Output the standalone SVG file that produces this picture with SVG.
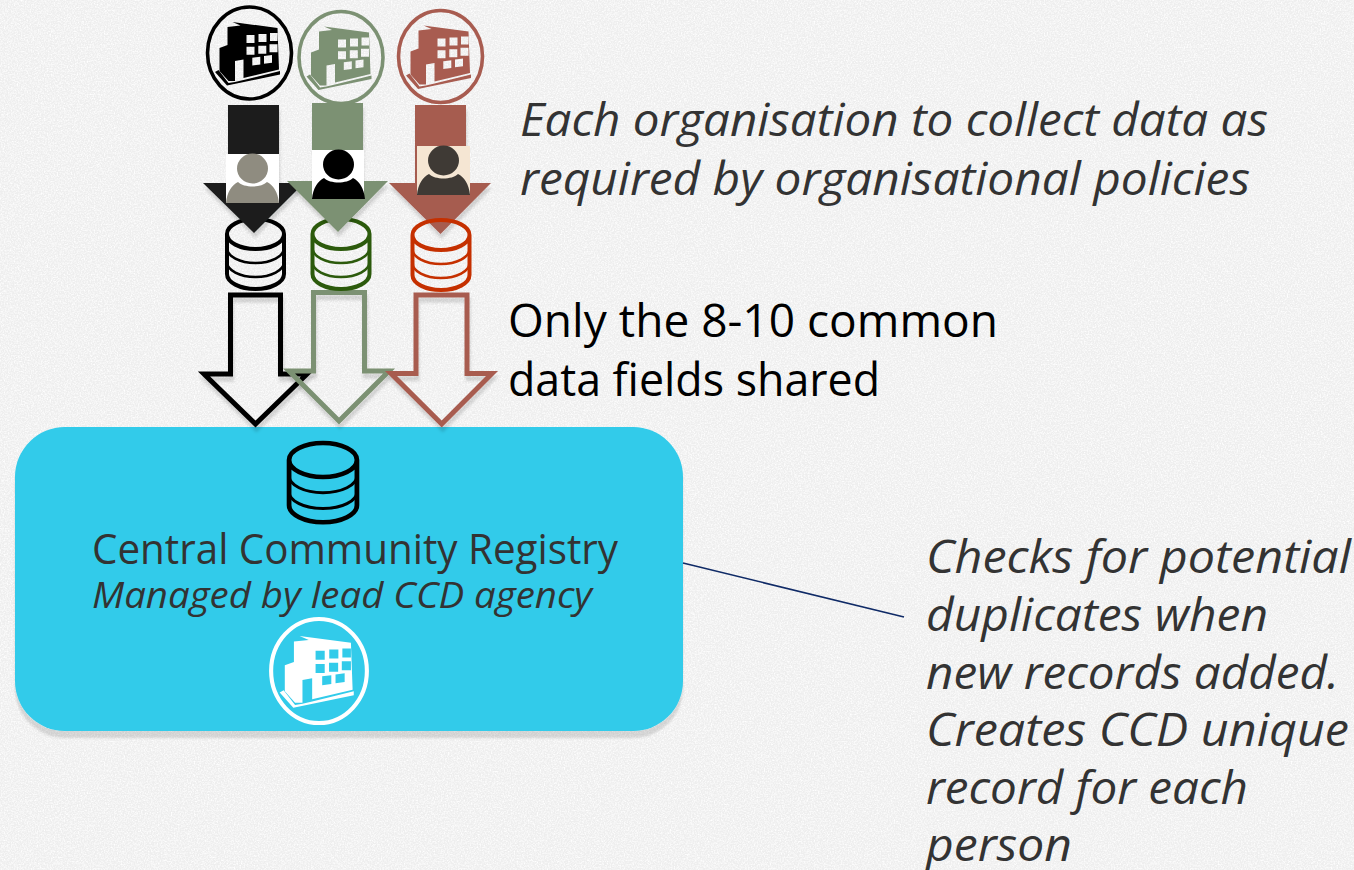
<svg xmlns="http://www.w3.org/2000/svg" width="1354" height="870" viewBox="0 0 1354 870">
<style>
.t{font-family:"Open Sans","Noto Sans","Liberation Sans",sans-serif;font-size:46px;fill:#333}
.i{font-style:italic;font-weight:400}
.out{fill:none;stroke-width:5;stroke-miterlimit:10;filter:url(#sh)}
.solid{filter:url(#sh)}
.ring{fill:none;stroke:currentColor;stroke-width:4}
.thin{fill:none;stroke:currentColor;stroke-width:2.6}
</style>
<defs>
<filter id="paper" x="0" y="0" width="100%" height="100%">
<feTurbulence type="fractalNoise" baseFrequency="0.7" numOctaves="2" seed="4"/>
<feColorMatrix values="0 0 0 0 1  0 0 0 0 1  0 0 0 0 1  1.5 1.5 0 0 -1.25"/>
<feComposite in2="SourceGraphic" operator="over"/>
</filter>
<filter id="sh" x="-20%" y="-20%" width="140%" height="140%">
<feDropShadow dx="1" dy="5" stdDeviation="1.5" flood-color="#000" flood-opacity="0.14"/>
</filter>
<filter id="boxsh" x="-5%" y="-5%" width="110%" height="115%">
<feDropShadow dx="0" dy="7" stdDeviation="1" flood-color="#000" flood-opacity="0.12"/>
</filter>
<symbol id="building" overflow="visible">
<ellipse cx="0" cy="0" rx="42" ry="46" fill="none" stroke="currentColor" stroke-width="3.6"/>
<path fill="currentColor" fill-rule="evenodd" d="M-17,-31 L28,-25 L29.5,16.5 L-6,25 L-6,6.5 L-14.5,8 L-14.5,28 L-21,28 L-30,18 L-30,-5 L-22,-8 L-22,-26 L-9,-27.5 Z M-3,-18 L5,-18 L5,-10 L-3,-10 Z M9,-19 L17,-19 L17,-11 L9,-11 Z M20.5,-20 L28,-20 L28,-12 L20.5,-12 Z M-3,-6.3 L5,-6.3 L5,1.7 L-3,1.7 Z M8.8,-7.3 L16.8,-7.3 L16.8,0.7 L8.8,0.7 Z M20,-8.7 L28,-8.7 L28,-0.7 L20,-0.7 Z M2.8,4.7 L10.8,3.7 L10.8,11.5 L2.8,12.5 Z M14.5,3 L22.5,2 L22.5,9.8 L14.5,10.8 Z"/>
<path fill="currentColor" d="M-34.5,19 L-31,17 L-21,30 L-14.5,29 L-6,27 L30.5,18 L30.5,21.5 L-22.5,32.5 Z"/>
</symbol>
<symbol id="person" overflow="visible">
<ellipse cx="26.5" cy="14.5" rx="15.5" ry="15"/>
<path d="M0,49 C1,38 6,31 12,28 C18,34 35,34 41,28 C47,31 52,38 53,49 Z"/>
</symbol>
<symbol id="db" overflow="visible">
<path class="ring" d="M-28.5,0 A28.5,15 0 1 1 28.5,0 A28.5,15 0 1 1 -28.5,0 Z M-28.5,0 V40 A28.5,15 0 0 0 28.5,40 V0"/>
<path class="thin" d="M-28.5,14 A28.5,15 0 0 0 28.5,14 M-28.5,28 A28.5,15 0 0 0 28.5,28"/>
</symbol>
</defs>
<rect id="background" width="1354" height="870" fill="#eeeeee" filter="url(#paper)"/>

<g id="central-registry">
<rect x="15" y="427" width="668" height="304" rx="50" fill="#31cbea" filter="url(#boxsh)"/>
<g color="#000"><use href="#db" transform="translate(323,460) scale(1.19,1.13)"/></g>
<text class="t" x="92" y="564" style="font-size:42px" textLength="526" lengthAdjust="spacingAndGlyphs">Central Community Registry</text>
<text class="t i" x="92" y="608" style="font-size:36px" textLength="500" lengthAdjust="spacingAndGlyphs">Managed by lead CCD agency</text>
<use href="#building" color="#fff" transform="translate(319,671) scale(1.14,1.13)"/>
</g>

<g id="connectors">
<line x1="683" y1="563" x2="904" y2="617" stroke="#0f2a66" stroke-width="1.6"/>
<polygon class="out" stroke="#000" points="230.5,295 280.5,295 280.5,374 307,374 255.5,424 204,374 230.5,374"/>
<polygon class="out" stroke="#7c9173" points="313.5,292.5 364.5,292.5 364.5,371 389,371 339,421 289,371 313.5,371"/>
<polygon class="out" stroke="#a85c50" points="416,295 467,295 467,373.5 492,373.5 441.7,424 391,373.5 416,373.5"/>
</g>

<g id="org-black" color="#000">
<use href="#building" transform="translate(249.5,53)"/>
<g color="#000"><use href="#db" transform="translate(255.5,234)"/></g>
<polygon class="solid" fill="#1d1f1e" points="228,105 279,105 279,183 304,183 254,233 203,183 228,183"/>
<rect x="226" y="154" width="53" height="49" fill="#fff"/>
<use href="#person" fill="#8f8c80" transform="translate(226,154)"/>
</g>
<g id="org-green" color="#7c9173">
<use href="#building" transform="translate(341,57.5)"/>
<g color="#2c5a0c"><use href="#db" transform="translate(341,234)"/></g>
<polygon class="solid" fill="#7c9173" points="312,103 363,103 363,181 388,181 338,232 287,181 312,181"/>
<rect x="312" y="150" width="52" height="49" fill="#fff"/>
<use href="#person" fill="#000" transform="translate(312,150)"/>
</g>
<g id="org-red" color="#a85c50">
<use href="#building" transform="translate(440.5,56.5)"/>
<polygon class="solid" fill="#a65b4f" points="415,105 466,105 466,183 491,183 440.5,234 389,183 415,183"/>
<g color="#c53000"><use href="#db" transform="translate(441,235)"/></g>
<rect x="417" y="146" width="53" height="48" fill="#f5e6d3"/>
<use href="#person" fill="#3f3a35" transform="translate(417,146)"/>
</g>

<g id="labels">
<text class="t i" x="520" y="136" textLength="748" lengthAdjust="spacingAndGlyphs">Each organisation to collect data as</text>
<text class="t i" x="520" y="195" textLength="730" lengthAdjust="spacingAndGlyphs">required by organisational policies</text>
<text class="t" x="508" y="337" style="fill:#000" textLength="490" lengthAdjust="spacingAndGlyphs">Only the 8-10 common</text>
<text class="t" x="508" y="396" style="fill:#000" textLength="372" lengthAdjust="spacingAndGlyphs">data fields shared</text>
<text class="t i" x="926" y="573" textLength="425" lengthAdjust="spacingAndGlyphs">Checks for potential</text>
<text class="t i" x="926" y="631" textLength="342" lengthAdjust="spacingAndGlyphs">duplicates when</text>
<text class="t i" x="926" y="689" textLength="413" lengthAdjust="spacingAndGlyphs">new records added.</text>
<text class="t i" x="926" y="746" textLength="423" lengthAdjust="spacingAndGlyphs">Creates CCD unique</text>
<text class="t i" x="926" y="804" textLength="322" lengthAdjust="spacingAndGlyphs">record for each</text>
<text class="t i" x="926" y="861" textLength="146" lengthAdjust="spacingAndGlyphs">person</text>
</g>
</svg>
